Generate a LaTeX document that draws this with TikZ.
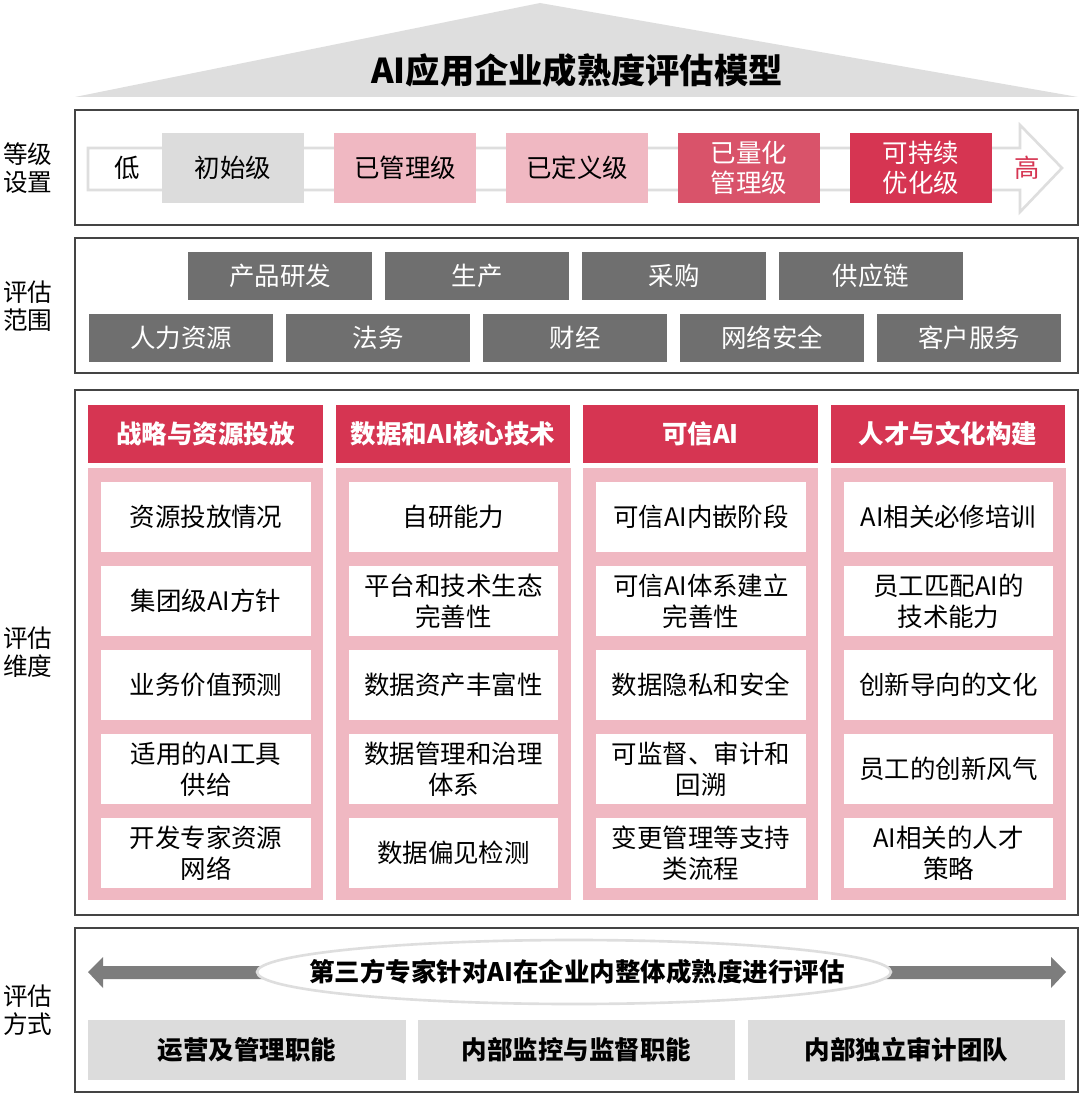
\documentclass[tikz,border=0pt]{standalone}
\usepackage{fontspec}
\setmainfont{Noto Sans CJK SC}
\usetikzlibrary{positioning,shapes.geometric,shapes.arrows}
\definecolor{roofgray}{HTML}{DEDEDE}
\definecolor{lightgray}{HTML}{DCDCDC}
\definecolor{midgray}{HTML}{6F6F6F}
\definecolor{framegray}{HTML}{444444}
\definecolor{palepink}{HTML}{F0B8C2}
\definecolor{rosered}{HTML}{D9536A}
\definecolor{deepred}{HTML}{D63552}

\begin{document}
\begin{tikzpicture}
    [
    x=0.02cm, y=-0.02cm,
    frame/.style = {draw=framegray, line width=1.2pt},
    sidelabel/.style = {align=center, font=\fontsize{14}{16}\selectfont},
    level/.style = {minimum width=2.84cm, minimum height=1.4cm, inner sep=0pt, align=center, font=\fontsize{14.5}{17}\selectfont},
    scopebox/.style = {fill=midgray, text=white, minimum width=3.7cm, minimum height=0.97cm, inner sep=0pt, font=\fontsize{14.5}{17}\selectfont},
    headbox/.style = {fill=deepred, text=white, minimum width=4.7cm, minimum height=1.18cm, inner sep=0pt, font=\bfseries\fontsize{14.5}{17}\selectfont},
    itembox/.style = {fill=white, minimum width=4.2cm, minimum height=1.4cm, inner sep=0pt, align=center, font=\fontsize{14.5}{17.5}\selectfont},
    waybox/.style = {fill=lightgray, minimum width=6.36cm, minimum height=1.2cm, inner sep=0pt, font=\bfseries\fontsize{14.5}{17}\selectfont}
    ]
\useasboundingbox (0,0) rectangle (1080,1095);

% Roof
    \fill[roofgray] (540,3) -- (1078,97) -- (75,97) -- cycle;
    \node[font=\bfseries\fontsize{19.5}{22}\selectfont] (title) at (577,70) {AI应用企业成熟度评估模型};

% Levels
    \draw[frame] (75,110) rectangle (1078,225);
    \node[sidelabel] (lvlabel) at (28,168) {等级\\设置};
    \draw[draw=roofgray, line width=1.5pt, fill=white] (88,148) -- (1020,148) -- (1020,125) -- (1062,168) -- (1020,212) -- (1020,190) -- (88,190) -- cycle;
    \node[font=\fontsize{14.5}{17}\selectfont] (low) at (127,168) {低};
    \node[level, fill=lightgray] (l1) at (233,168) {初始级};
    \node[level, fill=palepink] (l2) at (405,168) {已管理级};
    \node[level, fill=palepink] (l3) at (577,168) {已定义级};
    \node[level, fill=rosered, text=white] (l4) at (749,168) {已量化\\管理级};
    \node[level, fill=deepred, text=white] (l5) at (921,168) {可持续\\优化级};
    \node[text=deepred, font=\fontsize{14.5}{17}\selectfont] (high) at (1027,168) {高};

% Scope
    \draw[frame] (75,238) rectangle (1078,373);
    \node[sidelabel] (sclabel) at (28,306) {评估\\范围};
    \foreach \t [count=\i] in {产品研发,生产,采购,供应链}
        \node[scopebox] (s1\i) at ({280+(\i-1)*197},276) {\t};
    \foreach \t [count=\i] in {人力资源,法务,财经,网络安全,客户服务}
        \node[scopebox] (s2\i) at ({181+(\i-1)*197},338) {\t};

% Dimensions
    \draw[frame] (75,390) rectangle (1078,915);
    \node[sidelabel] (dmlabel) at (28,652) {评估\\维度};
    \foreach \h [count=\i] in {战略与资源投放,数据和AI核心技术,可信AI,人才与文化构建} {
        \fill[palepink] ({88+(\i-1)*247.5},468) rectangle ({323+(\i-1)*247.5},900);
        \node[headbox] (h\i) at ({205.5+(\i-1)*247.5},434) {\h};
    }
    \foreach \t [count=\j] in {资源投放情况,集团级AI方针,业务价值预测,适用的AI工具\\供给,开发专家资源\\网络}
        \node[itembox] (a\j) at (206,{517+(\j-1)*84}) {\t};
    \foreach \t [count=\j] in {自研能力,平台和技术生态\\完善性,数据资产丰富性,数据管理和治理\\体系,数据偏见检测}
        \node[itembox] (b\j) at (453.5,{517+(\j-1)*84}) {\t};
    \foreach \t [count=\j] in {可信AI内嵌阶段,可信AI体系建立\\完善性,数据隐私和安全,可监督、审计和\\回溯,变更管理等支持\\类流程}
        \node[itembox] (c\j) at (701,{517+(\j-1)*84}) {\t};
    \foreach \t [count=\j] in {AI相关必修培训,员工匹配AI的\\技术能力,创新导向的文化,员工的创新风气,AI相关的人才\\策略}
        \node[itembox] (d\j) at (948.5,{517+(\j-1)*84}) {\t};

% Methods
    \draw[frame] (75,928) rectangle (1078,1092);
    \node[sidelabel] (mdlabel) at (28,1010) {评估\\方式};
    \fill[midgray!90] (88,972) -- (103,957) -- (103,966) -- (1051,966) -- (1051,957) -- (1066,972) -- (1051,988) -- (1051,979) -- (103,979) -- (103,988) -- cycle;
    \draw[draw=roofgray, line width=1.5pt, fill=white] (574,972) ellipse [x radius=317, y radius=32];
    \node[font=\bfseries\fontsize{14.5}{17}\selectfont] (third) at (577,972) {第三方专家针对AI在企业内整体成熟度进行评估};
    \node[waybox] (w1) at (247,1050) {运营及管理职能};
    \node[waybox] (w2) at (576.5,1050) {内部监控与监督职能};
    \node[waybox] (w3) at (906.5,1050) {内部独立审计团队};

\end{tikzpicture}
\end{document}
